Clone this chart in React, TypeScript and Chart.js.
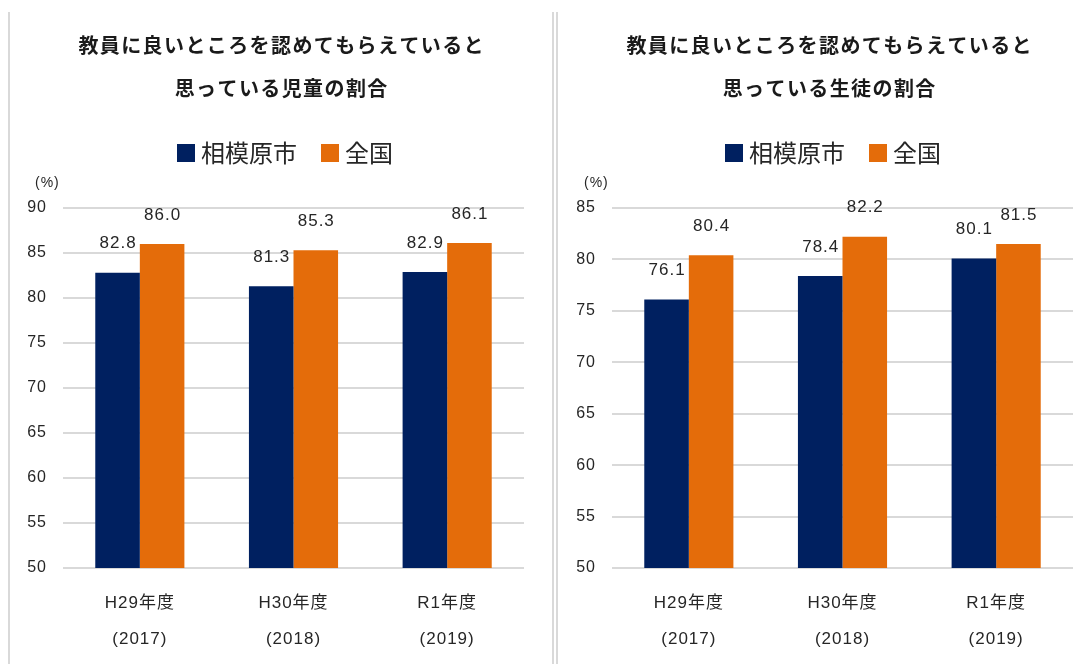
import React, { useEffect, useRef } from 'react';
import { Chart, registerables } from 'chart.js';

Chart.register(...registerables);

// ---- data ----
const categories: string[][] = [
  ['H29年度', '(2017)'],
  ['H30年度', '(2018)'],
  ['R1年度', '(2019)'],
];
const seriesNames: string[] = ['相模原市', '全国'];

const elemTitle: string[] = ['教員に良いところを認めてもらえていると', '思っている児童の割合'];
const elemCity: number[] = [82.8, 81.3, 82.9];
const elemNation: number[] = [86.0, 85.3, 86.1];
const elemRange: number[] = [50, 90];

const juniorTitle: string[] = ['教員に良いところを認めてもらえていると', '思っている生徒の割合'];
const juniorCity: number[] = [76.1, 78.4, 80.1];
const juniorNation: number[] = [80.4, 82.2, 81.5];
const juniorRange: number[] = [50, 85];

const tickStep = 5;
const unitLabel = '(%)';

// ---- styles ----
const NAVY = '#002060';
const ORANGE = '#E46C0A';
const TEXT = '#262626';
const GRID = '#d9d9d9';
const LATIN = '"Liberation Sans", "Noto Sans CJK JP", sans-serif';
const CJK = '"Noto Sans CJK JP", sans-serif';

type PanelProps = {
  title: string[];
  city: number[];
  nation: number[];
  range: number[];
  padLeft: number;
  padRight: number;
};

function makeDecor(title: string[]) {
  return {
    id: 'decor',
    beforeDraw(chart: any) {
      chart.ctx.letterSpacing = '1px';
    },
    afterDatasetsDraw(chart: any) {
      const ctx = chart.ctx;
      ctx.save();
      ctx.font = `17px ${LATIN}`;
      ctx.letterSpacing = '1px';
      ctx.fillStyle = TEXT;
      ctx.textAlign = 'center';
      ctx.textBaseline = 'middle';
      chart.data.datasets.forEach((ds: any, di: number) => {
        const meta = chart.getDatasetMeta(di);
        meta.data.forEach((bar: any, i: number) => {
          const v = ds.data[i] as number;
          ctx.fillText(v.toFixed(1), bar.x + 0.5, bar.y - 29);
        });
      });
      ctx.restore();
    },
    afterDraw(chart: any) {
      const ctx = chart.ctx;
      const w = chart.width;
      ctx.save();
      // title
      ctx.fillStyle = '#1a1a1a';
      ctx.textAlign = 'center';
      ctx.textBaseline = 'middle';
      ctx.font = `bold 20px ${CJK}`;
      ctx.letterSpacing = '1.4px';
      ctx.fillText(title[0], w / 2 + 0.7, 33);
      ctx.fillText(title[1], w / 2 + 0.7, 76);
      // legend
      ctx.font = `24px ${CJK}`;
      ctx.letterSpacing = '0px';
      const box = 18, gap = 6, sep = 24;
      const ds = chart.data.datasets;
      const widths = ds.map((d: any) => ctx.measureText(d.label).width);
      const total = ds.length * (box + gap) + widths.reduce((a: number, b: number) => a + b, 0) + sep * (ds.length - 1);
      let x = w / 2 - total / 2 + 4;
      const cy = 141;
      ctx.textAlign = 'left';
      ds.forEach((d: any, i: number) => {
        ctx.fillStyle = d.backgroundColor;
        ctx.fillRect(x, cy - box / 2, box, box);
        x += box + gap;
        ctx.fillStyle = TEXT;
        ctx.fillText(d.label, x, cy);
        x += widths[i] + sep;
      });
      // unit
      ctx.font = `14px ${LATIN}`;
      ctx.letterSpacing = '1px';
      ctx.fillStyle = TEXT;
      ctx.textAlign = 'left';
      ctx.fillText(unitLabel, chart.chartArea.left - 28, 171);
      ctx.restore();
    },
  };
}

function Panel({ title, city, nation, range, padLeft, padRight }: PanelProps) {
  const ref = useRef<HTMLCanvasElement | null>(null);
  useEffect(() => {
    if (!ref.current) return;
    const chart = new Chart(ref.current, {
      type: 'bar',
      data: {
        labels: categories,
        datasets: [
          { label: seriesNames[0], data: city, backgroundColor: NAVY, categoryPercentage: 0.58, barPercentage: 1 },
          { label: seriesNames[1], data: nation, backgroundColor: ORANGE, categoryPercentage: 0.58, barPercentage: 1 },
        ],
      },
      options: {
        responsive: false,
        animation: false,
        layout: { padding: { left: padLeft, right: padRight, top: 196, bottom: 0 } },
        plugins: {
          legend: { display: false },
          title: { display: false },
          tooltip: { enabled: false },
        },
        scales: {
          x: {
            grid: { display: false },
            border: { display: false },
            ticks: {
              color: TEXT,
              font: { family: LATIN, size: 17, lineHeight: 2.12 },
              padding: 9,
              maxRotation: 0,
              autoSkip: false,
            },
            afterFit: (s: any) => { s.height = 96; },
          },
          y: {
            min: range[0],
            max: range[1],
            grid: { color: GRID, lineWidth: 2, drawTicks: false },
            border: { display: false },
            ticks: {
              stepSize: tickStep,
              color: TEXT,
              font: { family: LATIN, size: 16 },
              padding: 16,
            },
            afterFit: (s: any) => { s.width = 40; },
          },
        },
      },
      plugins: [makeDecor(title)],
    });
    return () => chart.destroy();
  }, []);
  return <canvas ref={ref} width={542} height={652} style={{ display: 'block' }} />;
}

export default function App() {
  const panelBase: React.CSSProperties = {
    position: 'absolute',
    top: 12,
    width: 542,
    height: 652,
    borderLeft: `2px solid ${GRID}`,
    borderRight: `2px solid ${GRID}`,
  };
  return (
    <div style={{ position: 'fixed', inset: 0, overflow: 'hidden', background: '#fff' }}>
      <div style={{ ...panelBase, left: 8 }}>
        <Panel title={elemTitle} city={elemCity} nation={elemNation} range={elemRange} padLeft={13} padRight={28} />
      </div>
      <div style={{ ...panelBase, left: 556 }}>
        <Panel title={juniorTitle} city={juniorCity} nation={juniorNation} range={juniorRange} padLeft={14} padRight={27} />
      </div>
    </div>
  );
}
